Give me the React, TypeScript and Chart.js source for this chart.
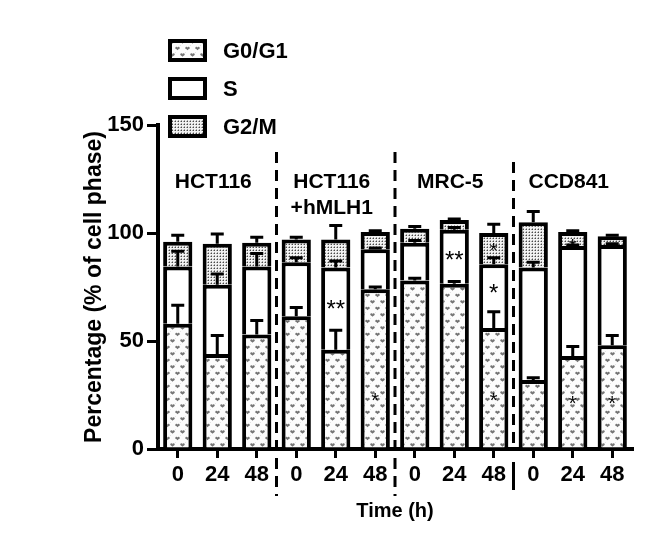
import React, { useEffect, useRef } from "react";
import { Chart, registerables } from "chart.js";
Chart.register(...registerables);

const timeLabels = ["0", "24", "48", "0", "24", "48", "0", "24", "48", "0", "24", "48"];
const groupNames = [["HCT116"], ["HCT116", "+hMLH1"], ["MRC-5"], ["CCD841"]];
const seriesNames = ["G0/G1", "S", "G2/M"];
const g0g1 = [58, 44, 53, 61.5, 46, 74, 78, 76.5, 56, 32, 43, 48];
const sPhase = [26.5, 32, 31.5, 25, 38, 18.5, 17.5, 25, 29.5, 52, 51, 46.5];
const g2m = [11.5, 19, 11, 10.5, 13, 8, 6.5, 4.5, 14.5, 21, 6.5, 4];
const g0g1Err = [8.5, 8.5, 6.5, 4, 9, 1, 1, 1, 7.5, 1, 4.5, 4.5];
const sErr = [7, 5, 6, 2, 3, 0.5, 1, 1, 3, 2.5, 0.5, 0.5];
const g2mErr = [3, 4.5, 2.5, 1, 6.5, 0.5, 1, 0.5, 4, 5, 0.5, 0.5];
const yTicks = [0, 50, 100, 150];
const sigBars = [4, 5, 7, 8, 8, 8, 10, 10, 11];
const sigValues = [67, 24.5, 90, 94, 74.5, 24.5, 96, 23, 23];
const sigTexts = ["**", "*", "**", "*", "*", "*", "*", "*", "*"];
const sigBig = [true, false, true, false, true, false, false, false, false];
const groupLabelValue = 123.5;

const FONT = "'Liberation Sans', Arial, Helvetica, sans-serif";

function makeG0Pattern(): CanvasPattern | string {
  const c = document.createElement("canvas");
  c.width = 10;
  c.height = 13;
  const g = c.getContext("2d");
  if (!g) return "#ddd";
  g.fillStyle = "#fcfcfc";
  g.fillRect(0, 0, 10, 13);
  g.fillStyle = "#e4e4e4";
  g.fillRect(0, 6, 1, 1);
  g.fillRect(5, 0, 1, 1);
  g.fillStyle = "#747474";
  const heart = (x: number, y: number) => {
    g.beginPath();
    g.arc(x - 1.1, y - 0.6, 1.1, 0, Math.PI * 2);
    g.arc(x + 1.1, y - 0.6, 1.1, 0, Math.PI * 2);
    g.fill();
    g.beginPath();
    g.moveTo(x - 2.2, y - 0.4);
    g.lineTo(x + 2.2, y - 0.4);
    g.lineTo(x, y + 1.8);
    g.closePath();
    g.fill();
  };
  heart(2.5, 3);
  heart(7.5, 9.5);
  const p = g.createPattern(c, "repeat");
  return p || "#ddd";
}

function makeG2Pattern(): CanvasPattern | string {
  const c = document.createElement("canvas");
  c.width = 3;
  c.height = 3;
  const g = c.getContext("2d");
  if (!g) return "#bbb";
  g.fillStyle = "#f2f2f2";
  g.fillRect(0, 0, 3, 3);
  g.fillStyle = "#4a4a4a";
  g.fillRect(1, 1, 1, 1);
  g.fillStyle = "#a8a8a8";
  g.fillRect(0, 1, 1, 1);
  g.fillRect(1, 0, 1, 1);
  const p = g.createPattern(c, "repeat");
  return p || "#bbb";
}

const errorBarPlugin = {
  id: "errorBars",
  afterDatasetsDraw(chart: any) {
    const ctx = chart.ctx;
    const ys = chart.scales.y;
    const errs = [g0g1Err, sErr, g2mErr];
    ctx.save();
    ctx.strokeStyle = "#000";
    ctx.lineWidth = 3;
    chart.data.datasets.forEach((ds: any, di: number) => {
      const meta = chart.getDatasetMeta(di);
      meta.data.forEach((bar: any, i: number) => {
        let cum = 0;
        for (let k = 0; k <= di; k++) cum += chart.data.datasets[k].data[i];
        const yTop = ys.getPixelForValue(cum);
        const yE = ys.getPixelForValue(cum + errs[di][i]);
        ctx.beginPath();
        ctx.moveTo(bar.x, yTop);
        ctx.lineTo(bar.x, yE);
        ctx.moveTo(bar.x - 6.5, yE);
        ctx.lineTo(bar.x + 6.5, yE);
        ctx.stroke();
      });
    });
    ctx.restore();
  },
};

const decorPlugin = {
  id: "decor",
  afterDraw(chart: any) {
    const ctx = chart.ctx;
    const xs = chart.scales.x;
    const ys = chart.scales.y;
    const area = chart.chartArea;
    ctx.save();
    // group dividers
    ctx.strokeStyle = "#000";
    ctx.lineWidth = 3;
    ctx.setLineDash([11, 7]);
    [2, 5, 8].forEach((k, idx) => {
      const x = (xs.getPixelForValue(k) + xs.getPixelForValue(k + 1)) / 2;
      ctx.beginPath();
      ctx.moveTo(x, area.top + (idx === 2 ? 37 : 27));
      ctx.lineTo(x, area.bottom + (idx === 2 ? 0 : 47));
      ctx.stroke();
      if (idx === 2) {
        ctx.setLineDash([]);
        ctx.beginPath();
        ctx.moveTo(x, area.bottom + 13);
        ctx.lineTo(x, area.bottom + 41);
        ctx.stroke();
        ctx.setLineDash([11, 7]);
      }
    });
    ctx.setLineDash([]);
    // group labels
    ctx.fillStyle = "#000";
    ctx.font = `bold 21px ${FONT}`;
    ctx.textAlign = "center";
    ctx.textBaseline = "middle";
    groupNames.forEach((lines, g) => {
      const x = xs.getPixelForValue(g * 3 + 1) - 4;
      const y0 = ys.getPixelForValue(groupLabelValue);
      lines.forEach((t, li) => ctx.fillText(t, x, y0 + li * 26));
    });
    // significance marks
    sigBars.forEach((b, i) => {
      const size = sigBig[i] ? 24 : 20;
      ctx.font = `${size}px ${FONT}`;
      ctx.fillStyle = "#000";
      ctx.textBaseline = "alphabetic";
      const x = xs.getPixelForValue(b);
      const y = ys.getPixelForValue(sigValues[i]) + size * 0.55;
      ctx.fillText(sigTexts[i], x, y);
    });
    // legend
    const ds = chart.data.datasets;
    const lx = 168, ly = 39, step = 38, bw = 39, bh = 23;
    ds.forEach((d: any, i: number) => {
      const y = ly + i * step;
      ctx.fillStyle = d.backgroundColor;
      ctx.fillRect(lx, y, bw, bh);
      ctx.strokeStyle = "#000";
      ctx.lineWidth = 4;
      ctx.strokeRect(lx + 2, y + 2, bw - 4, bh - 4);
      ctx.fillStyle = "#000";
      ctx.font = `bold 22px ${FONT}`;
      ctx.textAlign = "left";
      ctx.textBaseline = "middle";
      ctx.fillText(d.label, lx + bw + 16, y + bh / 2 + 1);
    });
    ctx.restore();
  },
};

export default function App() {
  const ref = useRef<HTMLCanvasElement | null>(null);
  useEffect(() => {
    if (!ref.current) return;
    const fills = [makeG0Pattern(), "#ffffff", makeG2Pattern()];
    const values = [g0g1, sPhase, g2m];
    const chart = new Chart(ref.current, {
      type: "bar",
      data: {
        labels: timeLabels,
        datasets: values.map((v, i) => ({
          label: seriesNames[i],
          data: v,
          backgroundColor: fills[i] as any,
          borderColor: "#000",
          borderWidth: 4,
          barPercentage: 0.74,
          categoryPercentage: 1,
        })),
      },
      options: {
        animation: false,
        responsive: false,
        devicePixelRatio: 1,
        layout: { padding: { top: 125, right: 20, left: 0, bottom: 0 } },
        plugins: { legend: { display: false }, tooltip: { enabled: false } },
        scales: {
          x: {
            stacked: true,
            offset: true,
            afterFit: (s: any) => {
              s.height = 98;
            },
            grid: {
              offset: false,
              drawOnChartArea: false,
              color: "#000",
              lineWidth: 3,
              tickLength: 9,
            },
            border: { color: "#000", width: 4 },
            ticks: {
              color: "#000",
              font: { family: FONT, size: 22, weight: "bold" },
              padding: 4,
              maxRotation: 0,
              autoSkip: false,
            },
            title: {
              display: true,
              text: "Time (h)",
              color: "#000",
              font: { family: FONT, size: 20, weight: "bold" },
              padding: { top: 0, bottom: 24 },
            },
          },
          y: {
            stacked: true,
            min: 0,
            max: 150,
            afterFit: (s: any) => {
              s.width = 158;
            },
            afterBuildTicks: (s: any) => {
              s.ticks = yTicks.map((v) => ({ value: v }));
            },
            grid: {
              drawOnChartArea: false,
              color: "#000",
              lineWidth: 3,
              tickLength: 11,
            },
            border: { color: "#000", width: 4 },
            ticks: {
              color: "#000",
              font: { family: FONT, size: 22, weight: "bold" },
              padding: 3,
            },
            title: {
              display: true,
              text: "Percentage (% of cell phase)",
              color: "#000",
              font: { family: FONT, size: 23, weight: "bold" },
              padding: { top: 81, bottom: 0 },
            },
          },
        },
      },
      plugins: [errorBarPlugin, decorPlugin],
    });
    return () => chart.destroy();
  }, []);
  return (
    <div style={{ position: "fixed", left: 0, top: 0, width: 652, height: 547, background: "#fff" }}>
      <canvas ref={ref} width={652} height={547} style={{ display: "block" }} />
    </div>
  );
}
